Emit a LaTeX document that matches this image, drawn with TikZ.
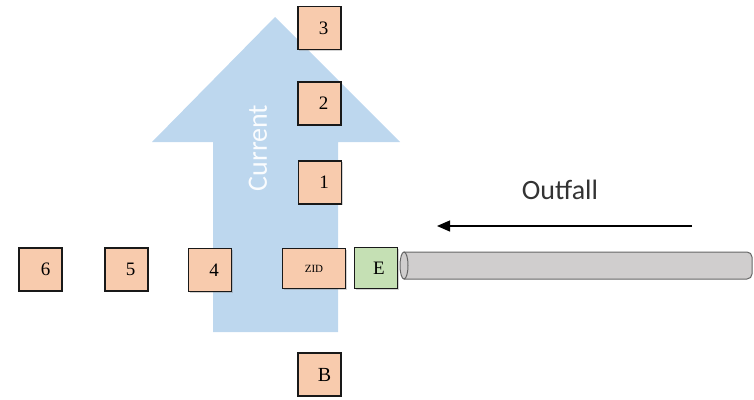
\documentclass[tikz,border=0pt]{standalone}
\usepackage{fontspec}
\setmainfont{Liberation Serif}
\newfontfamily\calib{Carlito}
\usetikzlibrary{arrows.meta,shadows}
\definecolor{peach}{HTML}{F8CBAD}
\definecolor{sky}{HTML}{BDD7EE}
\definecolor{mint}{HTML}{C5E0B4}
\definecolor{pipegray}{HTML}{D0CECE}
\begin{document}
\begin{tikzpicture}[x=1pt,y=-1pt,
  box/.style={draw=black!90,line width=1.5pt,fill=peach,minimum width=43pt,minimum height=43pt,inner sep=0pt,font=\fontsize{19}{20}\selectfont,
    drop shadow={shadow xshift=1pt,shadow yshift=-1.2pt,opacity=0.35}},
  gbox/.style={box,fill=mint}]
\useasboundingbox (0,0) rectangle (754,399);
% current arrow
\fill[sky] (275,17) -- (400,142) -- (338,142) -- (338,332) -- (213,332) -- (213,142) -- (152,142) -- cycle;
\node[rotate=90,text=white!92!sky,font=\calib\fontsize{28}{30}\selectfont] (cur) at (258,148) {Current};
% pipe
\draw[draw=black!60,line width=1pt,fill=pipegray,rounded corners=5pt] (404,252) -- (752,252) -- (752,279) -- (404,279);
\draw[draw=black!60,line width=1pt,fill=pipegray] (404,265.5) ellipse [x radius=4,y radius=13.5];
% boxes
\node[box] (b3) at (319.5,28) {\hspace{8pt}3};
\node[box] (b2) at (319.5,103.5) {\hspace{8pt}2};
\node[box] (b1) at (320,182.5) {\hspace{8pt}1};
\node[box,minimum width=63pt,minimum height=40pt,font=\fontsize{11}{12}\selectfont] (zid) at (314,268.5) {ZID};
\node[gbox,minimum height=41pt,font=\fontsize{19}{20}\selectfont] (e) at (376,268) {\hspace{6pt}E};
\node[box] (b4) at (210,270) {\hspace{8pt}4};
\node[box] (b5) at (126.5,269.5) {\hspace{8pt}5};
\node[box] (b6) at (40.5,269.5) {\hspace{10pt}6};
\node[box,font=\fontsize{20}{20}\selectfont] (bb) at (319.5,374.5) {\hspace{10pt}B};
% outfall
\coordinate (os) at (692,226);
\coordinate (oe) at (437,226);
\draw[line width=1.2pt,-{Triangle[length=13pt,width=11pt]}] (os) -- (oe);
\node[font=\calib\fontsize{28}{30}\selectfont,text=black!80] (out) at (560,190) {Outfall};
\end{tikzpicture}
\end{document}
